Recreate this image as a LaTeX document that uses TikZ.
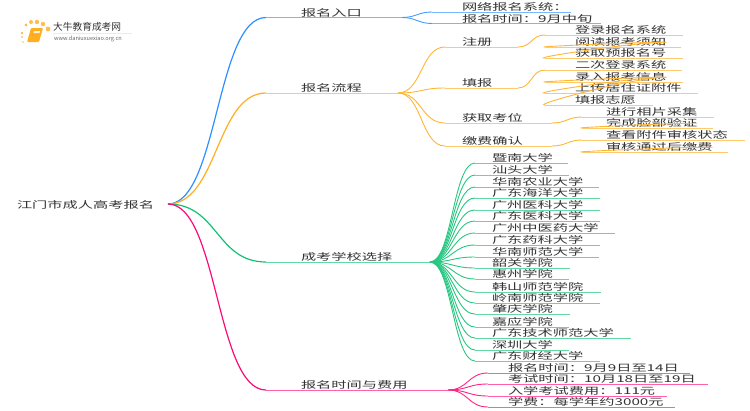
\documentclass[tikz,border=0pt]{standalone}
\usepackage{fontspec}
\setmainfont{Noto Sans CJK SC}
\definecolor{cblue}{HTML}{2E90FF}
\definecolor{corange}{HTML}{FFAE1F}
\definecolor{cgreen}{HTML}{0FC173}
\definecolor{cpink}{HTML}{FF0A78}
\definecolor{ctext}{HTML}{333333}
\tikzset{
  lbl/.style={anchor=west, inner sep=0pt, outer sep=0pt, text=ctext, font=\fontsize{9.4}{10}\selectfont, transform shape, xscale=1.62},
  link/.style={to path={.. controls +(#1,0) and +(-#1,0) .. (\tikztotarget)}},
  bough/.style={line width=1.2pt, draw=#1},
  twig/.style={line width=.9pt, draw=#1!90},
  tail/.style={line width=.8pt, draw=#1!65}
}
\begin{document}
\begin{tikzpicture}[x=1pt, y=-1pt]
 \useasboundingbox (0,0) rectangle (750,410);
 % logo
 \foreach \px/\py/\pr in {22/33/1.3, 26/25/1.6, 31/22/2, 37/22/2.2, 43/24/2.2, 48/29/2.4, 22/37/1, 23/42/.8}
   \fill[corange!80] (\px,\py) circle (\pr);
 \fill[corange, rounded corners=1pt] (31,28) -- (43,28) -- (39,42) -- (27,42) -- cycle;
 \fill[white!85!corange] (34,31) -- (40,31) -- (39.5,33) -- (33.5,33) -- cycle;
 \draw[black!8] (53,33) -- (132,33);
 \node (logoname) [anchor=west, inner sep=0pt, text=ctext, font=\fontsize{9.7}{10}\selectfont] at (53,27) {大牛教育成考网};
 \node (logourl) [anchor=west, inner sep=0pt, text=black!60, font=\fontsize{5.6}{6}\selectfont] at (54,38.5) {www.daniuxuexiao.org.cn};

 \node (root) [lbl] at (17,205) {江门市成人高考报名};
 \coordinate (hub) at (168,204);

 % first level
 \foreach \nm/\col/\y/\xe/\txt in {entry/cblue/17.5/402/报名入口, flow/corange/93/398/报名流程, school/cgreen/262/430/成考学校选择, fee/cpink/390/448/报名时间与费用} {
   \coordinate (\nm a) at (266,\y);
   \coordinate (\nm b) at (\xe,\y);
   \node (\nm) [lbl] at (301,\y-4.8) {\txt};
   \draw[bough=\col] (hub) to[link=50] (\nm a);
   \draw[tail=\col] (\nm a) -- (\nm b);
 }

 % entry
 \foreach \nm/\y/\xe/\txt in {netsys/12/571/网络报名系统：, nettime/23.5/601/报名时间：9月中旬} {
   \coordinate (\nm a) at (432,\y);
   \coordinate (\nm b) at (\xe,\y);
   \node (\nm) [lbl] at (462,\y-4.8) {\txt};
   \draw[twig=cblue] (entryb) to[link=14] (\nm a);
   \draw[tail=cblue] (\nm a) -- (\nm b);
 }

 % flow, second level
 \foreach \nm/\y/\xe/\txt in {reg/47/518/注册, form/88/518/填报, seat/123/552/获取考位, pay/146/552/缴费确认} {
   \coordinate (\nm a) at (445,\y);
   \coordinate (\nm b) at (\xe,\y);
   \node (\nm) [lbl] at (462,\y-4.8) {\txt};
   \draw[twig=corange] (flowb) to[link=24] (\nm a);
   \draw[tail=corange] (\nm a) -- (\nm b);
 }

 % flow, third level
 \foreach \up/\nm/\xs/\xt/\y/\xe/\txt in {
   reg/rega/545/575/35/683/登录报名系统,
   reg/regb/545/575/47/681/阅读报考须知,
   reg/regc/545/575/58/683/获取预报名号,
   form/forma/545/575/70/682/二次登录系统,
   form/formb/545/575/82/683/录入报考信息,
   form/formc/545/575/93/698/上传居住证附件,
   form/formd/545/575/105/653/填报志愿,
   seat/seata/582/606/117/714/进行相片采集,
   seat/seatb/582/606/128/713/完成脸部验证,
   pay/paya/582/606/140/745/查看附件审核状态,
   pay/payb/582/606/152/728/审核通过后缴费} {
   \coordinate (\nm a) at (\xs,\y);
   \coordinate (\nm b) at (\xe,\y);
   \node (\nm) [lbl] at (\xt,\y-4.8) {\txt};
   \draw[twig=corange] (\up b) to[link=14] (\nm a);
   \draw[tail=corange] (\nm a) -- (\nm b);
 }

 % schools
 \foreach \nm/\y/\xe/\txt in {
   sa/163/568/暨南大学, sb/175/569/汕头大学, sc/187/599/华南农业大学,
   sd/198/600/广东海洋大学, se/210/600/广州医科大学, sf/221/600/广东医科大学,
   sg/233/615/广州中医药大学, sh/245/600/广东药科大学, si/257/599/华南师范大学,
   sj/268/570/韶关学院, sk/279/569/惠州学院, sl/292/601/韩山师范学院,
   sm/303/600/岭南师范学院, sn/314/570/肇庆学院, so/327/569/嘉应学院,
   sp/338/631/广东技术师范大学, sq/350/569/深圳大学, sr/361/600/广东财经大学} {
   \coordinate (\nm a) at (475,\y);
   \coordinate (\nm b) at (\xe,\y);
   \node (\nm) [lbl] at (492,\y-4.8) {\txt};
   \draw[twig=cgreen] (schoolb) to[link=22] (\nm a);
   \draw[tail=cgreen] (\nm a) -- (\nm b);
 }

 % fee
 \foreach \nm/\y/\xe/\txt in {
   fa/373/690/报名时间：9月9日至14日, fb/384/708/考试时间：10月18日至19日,
   fc/396/667/入学考试费用：111元, fd/407/675/学费：每学年约3000元} {
   \coordinate (\nm a) at (488,\y);
   \coordinate (\nm b) at (\xe,\y);
   \node (\nm) [lbl] at (508,\y-4.8) {\txt};
   \draw[twig=cpink] (feeb) to[link=20] (\nm a);
   \draw[tail=cpink] (\nm a) -- (\nm b);
 }
\end{tikzpicture}
\end{document}
